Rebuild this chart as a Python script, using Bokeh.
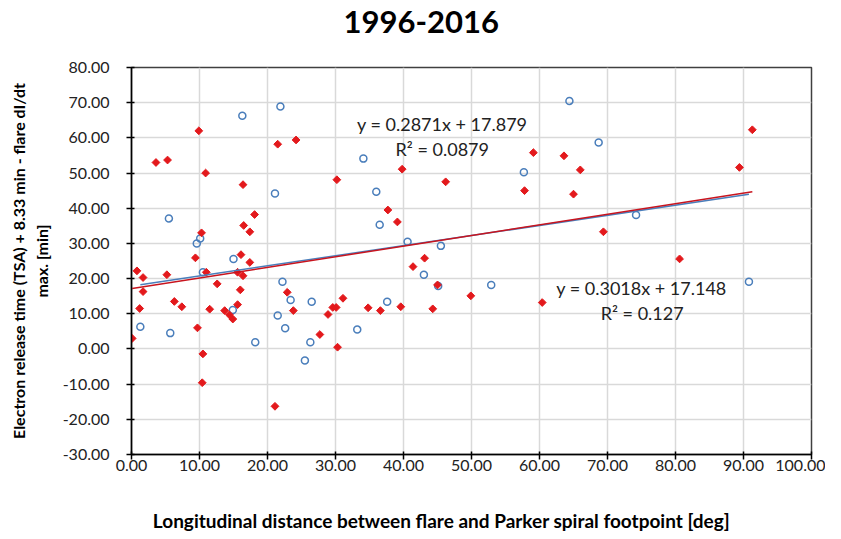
from bokeh.plotting import figure
from bokeh.models import NumeralTickFormatter, Range1d, Label, FixedTicker, Title
from bokeh.embed import file_html
from bokeh.resources import INLINE

# ---- data ----
blue_x = [16.3, 21.1, 5.5, 10.1, 9.6, 15.0, 1.3, 5.7, 10.5, 14.9, 18.2, 21.5,
          21.9, 34.1, 36.0, 36.5, 40.6, 22.2, 23.4, 26.5, 22.6, 26.3, 25.5, 33.2,
          37.6, 43.0, 45.1, 52.9, 57.7, 45.5, 64.4, 68.7, 74.2, 90.8]
blue_y = [66.3, 44.2, 37.1, 31.4, 30.0, 25.6, 6.3, 4.5, 21.8, 11.1, 1.9, 9.5,
          68.9, 54.1, 44.7, 35.3, 30.5, 19.1, 13.9, 13.4, 5.9, 1.9, -3.3, 5.5,
          13.4, 21.1, 17.9, 18.2, 50.2, 29.3, 70.5, 58.7, 38.1, 19.1]

red_x = [9.9, 3.6, 5.3, 10.9, 16.4, 18.1, 16.5, 17.4, 10.3, 9.4, 16.1, 17.4,
         0.8, 1.7, 5.2, 11.0, 15.6, 16.4, 1.7, 12.6, 16.0, 6.3, 7.4, 1.2,
         11.5, 13.7, 15.6, 14.4, 14.9, 9.7, 0.1, 10.5, 10.4, 21.1, 21.5, 24.2,
         30.2, 39.8, 37.7, 39.1, 41.4, 22.9, 23.8, 27.7, 28.9, 29.6, 30.1, 31.1,
         30.3, 34.8, 36.6, 39.6, 46.2, 59.1, 57.8, 43.1, 45.0, 44.3, 49.9, 60.4,
         63.6, 66.0, 65.0, 69.4, 80.6, 91.3, 89.4]
red_y = [62.0, 53.0, 53.7, 50.0, 46.7, 38.2, 35.1, 33.3, 33.0, 25.9, 26.8, 24.6,
         22.2, 20.3, 21.1, 21.8, 21.8, 20.8, 16.3, 18.5, 16.8, 13.5, 12.0, 11.5,
         11.3, 10.9, 12.6, 9.7, 8.5, 6.0, 3.0, -1.4, -9.6, -16.3, 58.2, 59.4,
         48.1, 51.1, 39.5, 36.1, 23.4, 16.1, 10.9, 4.1, 9.8, 11.8, 11.8, 14.4,
         0.5, 11.7, 10.9, 12.0, 47.5, 55.8, 45.0, 25.8, 18.2, 11.4, 15.1, 13.2,
         54.9, 50.9, 44.0, 33.3, 25.6, 62.3, 51.6]

blue_slope, blue_intercept, blue_r2 = 0.2871, 17.879, "0.0879"
red_slope, red_intercept, red_r2 = 0.3018, 17.148, "0.127"

x_ticks = [0, 10, 20, 30, 40, 50, 60, 70, 80, 90, 100]
y_ticks = [-30, -20, -10, 0, 10, 20, 30, 40, 50, 60, 70, 80]

title_text = "1996-2016"
x_label = "Longitudinal distance between flare and Parker spiral footpoint [deg]"
y_label = "Electron release time (TSA) + 8.33 min - flare dI/dt\nmax. [min]"

FONT = "Lato"

p = figure(width=825, height=534, x_range=Range1d(0, 100), y_range=Range1d(-30, 80),
           output_backend="svg", toolbar_location=None,
           min_border_left=131, min_border_right=14, min_border_top=67, min_border_bottom=80)

# chart title (outermost)
p.title.text = title_text
p.title.align = "left"
p.title.offset = 212
p.title.standoff = 0
p.title.text_font = FONT
p.title.text_font_size = "31px"
p.title.text_font_style = "bold"
p.title.text_color = "black"
# invisible spacer between the title and the plot frame
p.add_layout(Title(text="\u00a0", standoff=0, text_font=FONT, text_font_size="27px"), "above")

for ax in (p.xaxis[0], p.yaxis[0]):
    ax.formatter = NumeralTickFormatter(format="0.00")
    ax.major_label_text_font = FONT
    ax.major_label_text_font_size = "16px"
    ax.major_label_text_color = "#222222"
    ax.axis_label_text_font = FONT
    ax.axis_label_text_font_style = "bold"
    ax.axis_label_text_color = "black"
    ax.axis_line_color = "black"
    ax.axis_line_width = 1.5
    ax.major_tick_line_color = "black"
    ax.major_tick_line_width = 1.5
    ax.major_tick_out = 5
    ax.major_tick_in = 3
    ax.minor_tick_line_color = None

p.xaxis[0].ticker = FixedTicker(ticks=x_ticks)
p.yaxis[0].ticker = FixedTicker(ticks=y_ticks)
p.yaxis[0].axis_label = y_label
p.yaxis[0].axis_label_text_font_size = "16px"
p.xaxis[0].axis_label = x_label + "\u00a0" * 13
p.xaxis[0].axis_label_text_font_size = "19px"
p.xaxis[0].major_label_standoff = 0
p.xaxis[0].axis_label_standoff = 35
p.yaxis[0].major_label_standoff = 17
p.yaxis[0].axis_label_standoff = 9

p.xgrid.ticker = FixedTicker(ticks=x_ticks)
p.ygrid.ticker = FixedTicker(ticks=y_ticks)
p.grid.grid_line_color = "#d9d9d9"
p.grid.grid_line_width = 1.5
p.outline_line_color = "#404040"
p.outline_line_width = 1.5

# markers
p.scatter(blue_x, blue_y, marker="circle", size=7, fill_color=None,
          line_color="#4a7ebb", line_width=1.5)
p.scatter(red_x, red_y, marker="square", angle=0.7853981634, size=5.5,
          fill_color="#e3191c", line_color="#e3191c", line_width=1)

# trend lines from equations
bx = [min(blue_x), max(blue_x)]
p.line(bx, [blue_slope * v + blue_intercept for v in bx], line_color="#4a7ebb", line_width=1.5)
rx = [min(red_x), max(red_x)]
p.line(rx, [red_slope * v + red_intercept for v in rx], line_color="#c8141e", line_width=1.5)

def eq(x, y, txt):
    p.add_layout(Label(x=x, y=y, text=txt, text_font=FONT, text_font_size="18px",
                       text_color="#222222", text_align="center", text_baseline="middle"))

eq(45.7, 64.0, f"y = {blue_slope}x + {blue_intercept}")
eq(45.7, 56.9, f"R\u00b2 = {blue_r2}")
eq(75.0, 17.4, f"y = {red_slope}x + {red_intercept}")
eq(75.1, 10.3, f"R\u00b2 = {red_r2}")

open("out.html", "w").write(file_html(p, INLINE))
